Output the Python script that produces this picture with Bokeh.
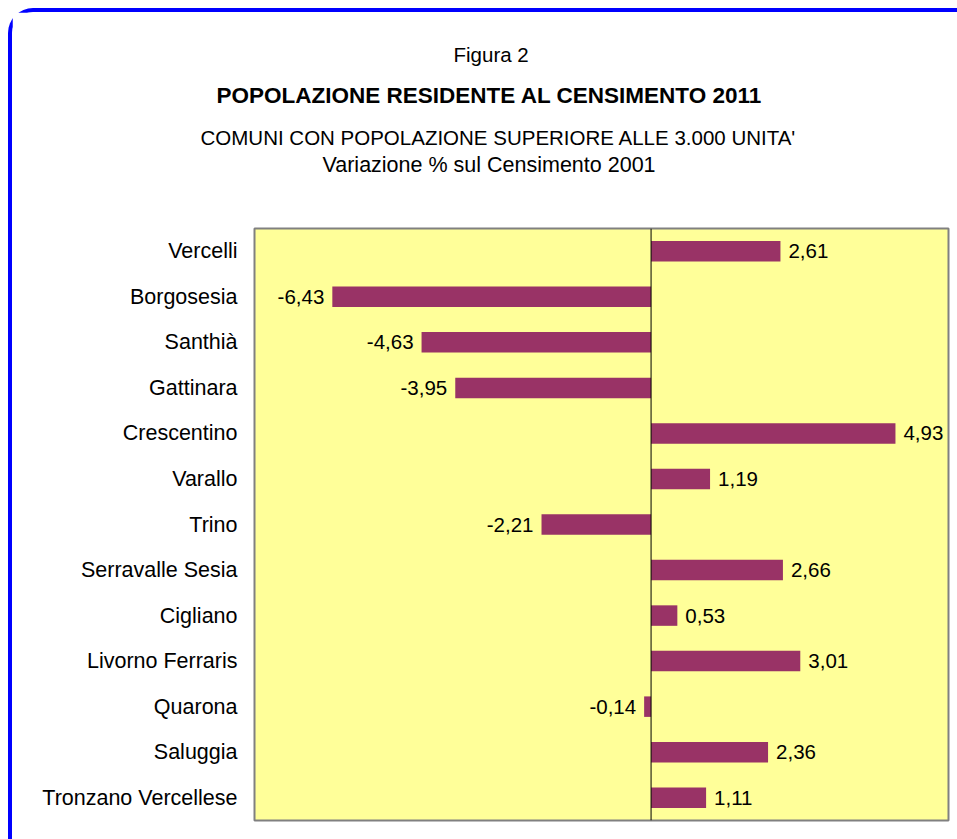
from bokeh.plotting import figure
from bokeh.models import ColumnDataSource, Span, Title, Range1d, FactorRange
from bokeh.core.properties import value
from bokeh.embed import file_html
from bokeh.resources import INLINE

comuni = ["Vercelli", "Borgosesia", "Santhià", "Gattinara", "Crescentino", "Varallo",
          "Trino", "Serravalle Sesia", "Cigliano", "Livorno Ferraris", "Quarona",
          "Saluggia", "Tronzano Vercellese"]
variazione = [2.61, -6.43, -4.63, -3.95, 4.93, 1.19, -2.21, 2.66, 0.53, 3.01, -0.14, 2.36, 1.11]
x_min, x_max = -8, 6

fig_title = "Figura 2"
main_title = "POPOLAZIONE RESIDENTE AL CENSIMENTO 2011"
sub_title1 = "COMUNI CON POPOLAZIONE SUPERIORE ALLE 3.000 UNITA'"
sub_title2 = "Variazione % sul Censimento 2001"

FONT = "Liberation Sans"
labels = [f"{v:.2f}".replace(".", ",") for v in variazione]

pos = [i for i, v in enumerate(variazione) if v >= 0]
neg = [i for i, v in enumerate(variazione) if v < 0]

src = ColumnDataSource(dict(name=comuni, value=variazione, label=labels))
src_pos = ColumnDataSource(dict(name=[comuni[i] for i in pos], value=[variazione[i] for i in pos],
                                label=[labels[i] for i in pos]))
src_neg = ColumnDataSource(dict(name=[comuni[i] for i in neg], value=[variazione[i] for i in neg],
                                label=[labels[i] for i in neg]))

# canvas sits at page (12, 12): 8px margin + 4px blue border (top/left)
OX, OY = 12, 12
FL, FT, FW, FH = 254 - OX, 228 - OY, 694, 592
W, H = 957 - OX, 839 - OY
p = figure(width=W, height=H, output_backend="svg", toolbar_location=None,
           y_range=FactorRange(*list(reversed(comuni))), x_range=Range1d(x_min, x_max),
           min_border_left=FL, min_border_right=W - FL - FW, min_border_top=FT,
           min_border_bottom=H - FT - FH, frame_width=FW, frame_height=FH)
p.styles = {"margin-left": "8px", "margin-top": "8px",
            "border-top": "4px solid #0000FF", "border-left": "4px solid #0000FF",
            "border-top-left-radius": "25px", "box-sizing": "content-box"}
p.background_fill_color = "#FFFF99"
p.border_fill_color = "white"
p.outline_line_color = "#808080"
p.outline_line_width = 2
p.xgrid.visible = False
p.ygrid.visible = False
p.xaxis.visible = False

ax = p.yaxis[0]
ax.axis_line_color = None
ax.major_tick_line_color = None
ax.minor_tick_line_color = None
ax.major_tick_out = 0
ax.major_tick_in = 0
ax.minor_tick_out = 0
ax.major_label_text_font = FONT
ax.major_label_text_font_size = "21.5px"
ax.major_label_text_color = "black"
ax.major_label_standoff = 17

p.hbar(y="name", left=0, right="value", height=0.45, source=src,
       fill_color="#993366", line_color=None)
p.add_layout(Span(location=0, dimension="height", line_color="black", line_width=1))

p.text(x="value", y="name", text="label", source=src_pos, x_offset=8,
       text_align="left", text_baseline="middle", text_font=value(FONT),
       text_font_size="20.5px", text_color="black")
p.text(x="value", y="name", text="label", source=src_neg, x_offset=-8,
       text_align="right", text_baseline="middle", text_font=value(FONT),
       text_font_size="20.5px", text_color="black")

# blank spacer title between the frame and the subtitles
p.add_layout(Title(text=" ", standoff=49, text_font=FONT, text_font_size="1px",
                   text_color="white"), "above")

# titles stacked above the spacer (first added sits closest to the frame)
for txt, size, style, off, stand in [(sub_title2, "21.5px", "normal", 68, 0),
                                     (sub_title1, "20.5px", "normal", -54, 3),
                                     (main_title, "22.5px", "bold", -38, 30),
                                     (fig_title, "20.5px", "normal", 199, 0)]:
    p.add_layout(Title(text=txt, align="left", offset=off, standoff=stand,
                       text_font=FONT, text_font_size=size, text_font_style=style,
                       text_color="black"), "above")

open("out.html", "w").write(file_html(p, INLINE))
